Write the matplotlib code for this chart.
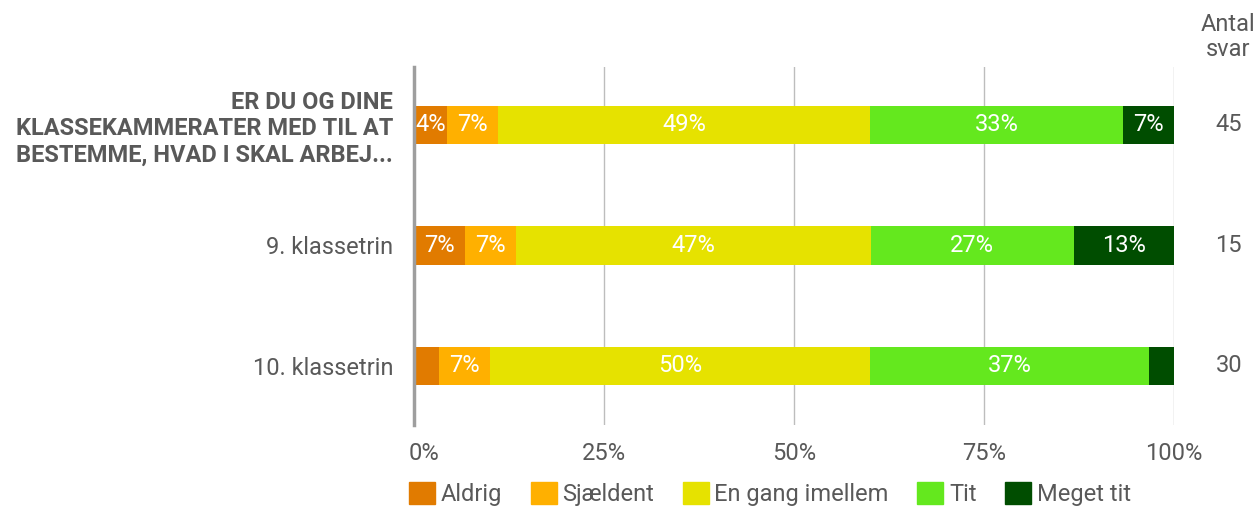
import matplotlib
matplotlib.use("Agg")
import matplotlib.pyplot as plt
from matplotlib.patches import Patch
import matplotlib.transforms as mtransforms

plt.rcParams['font.family'] = ['Roboto', 'DejaVu Sans']

categories = ["ER DU OG DINE\nKLASSEKAMMERATER MED TIL AT\nBESTEMME, HVAD I SKAL ARBEJ...",
              "9. klassetrin", "10. klassetrin"]
series = ["Aldrig", "Sjældent", "En gang imellem", "Tit", "Meget tit"]
values = [
    [4.4, 6.7, 48.9, 33.3, 6.7],
    [6.7, 6.7, 46.7, 26.7, 13.3],
    [3.3, 6.7, 50.0, 36.7, 3.3],
]
labels = [
    ["4%", "7%", "49%", "33%", "7%"],
    ["7%", "7%", "47%", "27%", "13%"],
    ["", "7%", "50%", "37%", ""],
]
counts = [45, 15, 30]
colors = ["#E17B00", "#FFB000", "#E6E200", "#64E81E", "#004D00"]
xticks = [0, 25, 50, 75, 100]
xticklabels = ["0%", "25%", "50%", "75%", "100%"]

W, H = 1258, 508
FS = 17
fig = plt.figure(figsize=(W / 100, H / 100), dpi=100)
ax = fig.add_axes([414 / W, 1 - 425 / H, 760 / W, 358 / H])

txt = "#595959"
for i, row in enumerate(values):
    left = 0
    for j, v in enumerate(row):
        ax.barh(i, v, left=left, height=0.32, color=colors[j], zorder=3)
        if labels[i][j]:
            ax.text(left + v / 2, i, labels[i][j], ha="center", va="center",
                    color="white", fontsize=FS, zorder=4)
        left += v
    ax.text(1.072, i, str(counts[i]), transform=ax.get_yaxis_transform(),
            ha="center", va="center", fontsize=FS, color=txt)

fig.text(1228 / W, 1 - 13 / H, "Antal\nsvar", ha="center", va="top",
         fontsize=FS, color=txt, linespacing=1.1)

ax.set_xlim(0, 100)
ax.set_ylim(2.49, -0.48)
ax.set_xticks(xticks)
ax.set_xticklabels(xticklabels, fontsize=FS, color=txt)
ax.set_yticks(range(len(categories)))
ax.set_yticklabels(categories, fontsize=FS, color=txt)
ax.get_yticklabels()[0].set_fontweight("bold")
ax.get_yticklabels()[0].set_linespacing(1.17)
ax.tick_params(axis="both", length=0)
ax.tick_params(axis="y", pad=15)
ax.tick_params(axis="x", pad=12)
lbl0 = ax.get_xticklabels()[0]
lbl0.set_transform(lbl0.get_transform() + mtransforms.ScaledTranslation(10 / 100, 0, fig.dpi_scale_trans))
for s in ["top", "right", "bottom"]:
    ax.spines[s].set_visible(False)
ax.spines["left"].set_color("#9E9E9E")
ax.spines["left"].set_linewidth(2.5)
ax.spines["left"].set_zorder(5)
ax.grid(axis="x", color="#BDBDBD", linewidth=1, zorder=0)
ax.get_xgridlines()[0].set_visible(False)

handles = [Patch(facecolor=c, edgecolor=c, label=s) for c, s in zip(colors, series)]
fig.legend(handles=handles, loc="center", bbox_to_anchor=(770 / W, 1 - 494 / H),
           ncol=5, frameon=False, fontsize=FS, handlelength=1.1, handleheight=1.1,
           handletextpad=0.25, columnspacing=1.2, labelcolor=txt,
           borderpad=0, borderaxespad=0)

fig.savefig("out.png", dpi=100)
